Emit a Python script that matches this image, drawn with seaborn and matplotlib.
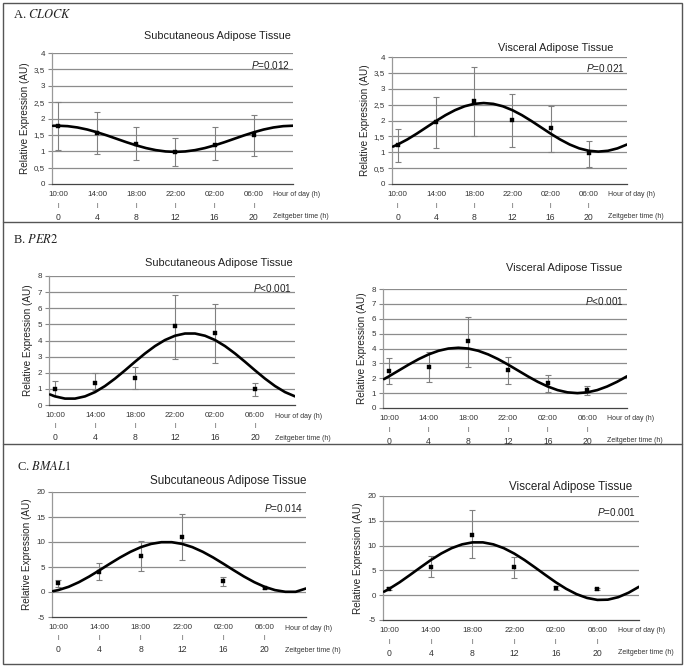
import matplotlib
matplotlib.use("Agg")
import matplotlib.pyplot as plt
import matplotlib.transforms as mtransforms
from matplotlib.patches import Rectangle
from matplotlib.lines import Line2D
import seaborn as sns
import pandas as pd

sns.set_theme(style="white")
plt.rcParams['font.family'] = ['Liberation Sans', 'DejaVu Sans']
plt.rcParams['mathtext.fontset'] = 'custom'
plt.rcParams['mathtext.rm'] = 'Liberation Sans'
plt.rcParams['mathtext.it'] = 'Liberation Sans:italic'

# sampling times (Zeitgeber time, h) and clock labels
zt = [0, 4, 8, 12, 16, 20]
hour_labels = ["10:00", "14:00", "18:00", "22:00", "02:00", "06:00"]
curve_hours = [-0.5] + list(range(25))

# A. CLOCK
clock_sat_mean = [1.78, 1.57, 1.22, 0.97, 1.2, 1.5]
clock_sat_lo = [1.03, 0.92, 0.72, 0.55, 0.72, 0.87]
clock_sat_hi = [2.5, 2.2, 1.73, 1.4, 1.73, 2.1]
clock_sat_curve = [1.777, 1.78, 1.766, 1.726, 1.663, 1.58, 1.484, 1.38, 1.276, 1.18, 1.097, 1.034, 0.994,
                   0.98, 0.994, 1.034, 1.097, 1.18, 1.276, 1.38, 1.484, 1.58, 1.663, 1.726, 1.766, 1.78]

clock_vat_mean = [1.22, 1.95, 2.6, 2.03, 1.75, 0.97]
clock_vat_lo = [0.68, 1.12, 1.5, 1.17, 1.0, 0.53]
clock_vat_hi = [1.72, 2.75, 3.67, 2.85, 2.47, 1.37]
clock_vat_curve = [1.178, 1.244, 1.403, 1.587, 1.785, 1.983, 2.168, 2.326, 2.448, 2.524, 2.55, 2.524, 2.448,
                   2.326, 2.168, 1.983, 1.785, 1.587, 1.403, 1.244, 1.122, 1.046, 1.02, 1.046, 1.122, 1.244]

# B. PER2
per2_sat_mean = [1.0, 1.38, 1.68, 4.87, 4.45, 0.98]
per2_sat_lo = [0.55, 0.9, 1.0, 2.85, 2.6, 0.55]
per2_sat_hi = [1.47, 2.0, 2.35, 6.85, 6.28, 1.38]
per2_sat_curve = [0.653, 0.535, 0.397, 0.397, 0.535, 0.8, 1.176, 1.636, 2.149, 2.681, 3.194, 3.654, 4.03,
                  4.295, 4.433, 4.433, 4.295, 4.03, 3.654, 3.194, 2.681, 2.149, 1.636, 1.176, 0.8, 0.535]

per2_vat_mean = [2.5, 2.78, 4.48, 2.55, 1.65, 1.18]
per2_vat_lo = [1.6, 1.78, 2.78, 1.58, 1.08, 0.85]
per2_vat_hi = [3.35, 3.75, 6.15, 3.4, 2.2, 1.5]
per2_vat_curve = [1.941, 2.13, 2.525, 2.92, 3.288, 3.603, 3.846, 3.998, 4.05, 3.998, 3.846, 3.603, 3.288,
                  2.92, 2.525, 2.13, 1.762, 1.447, 1.204, 1.052, 1.0, 1.052, 1.204, 1.447, 1.762, 2.13]

# C. BMAL1
bmal1_sat_mean = [1.8, 4.1, 7.3, 11.1, 2.2, 0.9]
bmal1_sat_lo = [1.0, 2.5, 4.3, 6.5, 1.3, 0.7]
bmal1_sat_hi = [2.5, 5.9, 10.3, 15.6, 3.1, 1.1]
bmal1_sat_curve = [0.17, 0.38, 1.03, 1.96, 3.09, 4.35, 5.65, 6.91, 8.04, 8.97, 9.62, 9.96, 9.96,
                   9.62, 8.97, 8.04, 6.91, 5.65, 4.35, 3.09, 1.96, 1.03, 0.38, 0.04, 0.04, 0.7]

bmal1_vat_mean = [1.3, 5.7, 12.2, 5.6, 1.5, 1.3]
bmal1_vat_lo = [1.0, 3.6, 7.4, 3.5, 1.1, 1.1]
bmal1_vat_hi = [1.6, 8.0, 17.2, 7.8, 1.9, 1.5]
bmal1_vat_curve = [0.71, 1.29, 2.61, 4.09, 5.61, 7.09, 8.41, 9.49, 10.25, 10.65, 10.65, 10.25, 9.49,
                   8.41, 7.09, 5.61, 4.09, 2.61, 1.29, 0.21, -0.55, -0.95, -0.9, -0.4, 0.5, 1.7]

W, H = 689, 669
fig = plt.figure(figsize=(W / 100, H / 100), dpi=100)


def px_axes(x0, y0, x1, y1):
    return fig.add_axes([x0 / W, 1 - y1 / H, (x1 - x0) / W, (y1 - y0) / H])


def draw_panel(ax, mean, lo, hi, curve, yticks, ylabels, ptext, py):
    ax.set_xlim(-0.6, 24)
    ax.set_ylim(yticks[0], yticks[-1])
    ax.set_yticks(yticks)
    ax.set_yticklabels(ylabels, fontsize=5.8, color='#333333')
    for y in yticks[1:]:
        ax.axhline(y, color='#8c8c8c', lw=0.9, zorder=0)
    ax.errorbar(zt, mean,
                yerr=[[m - l for m, l in zip(mean, lo)], [h - m for m, h in zip(mean, hi)]],
                fmt='none', ecolor='#808080', elinewidth=0.8, capsize=2, capthick=0.8, zorder=2)
    df_c = pd.DataFrame({'t': curve_hours, 'v': curve})
    sns.lineplot(data=df_c, x='t', y='v', ax=ax, color='black', lw=1.9, zorder=3)
    df_p = pd.DataFrame({'t': zt, 'v': mean})
    sns.scatterplot(data=df_p, x='t', y='v', ax=ax, marker='s', s=12, color='black',
                    edgecolor='black', zorder=4)
    ax.set_xlabel('')
    ax.set_ylabel('Relative Expression (AU)', fontsize=7.2, color='#222222', labelpad=3)
    ax.set_xticks([0, 4, 8, 12, 16, 20, 24])
    ax.set_xticklabels(hour_labels + [''], fontsize=5.8, color='#333333')
    ax.tick_params(axis='x', direction='inout', length=4, width=0.8, color='#555555', pad=3)
    ax.tick_params(axis='y', direction='out', length=3, width=0.8, color='#888888', pad=2, left=True)
    for s in ['top', 'right']:
        ax.spines[s].set_visible(False)
    ax.spines['left'].set_color('#999999')
    ax.spines['bottom'].set_color('#444444')
    ax.spines['left'].set_linewidth(0.9)
    ax.spines['bottom'].set_linewidth(0.9)
    trans = mtransforms.blended_transform_factory(ax.transData, ax.transAxes)
    for t in zt:
        ax.annotate('|', xy=(t, 0), xycoords=trans, xytext=(0, -21), textcoords='offset pixels',
                    ha='center', va='center', fontsize=4.2, color='#333333')
        ax.annotate(str(t), xy=(t, 0), xycoords=trans, xytext=(0, -33), textcoords='offset pixels',
                    ha='center', va='center', fontsize=6.2, color='#333333')
    ax.annotate('Hour of day (h)', xy=(22, 0), xycoords=trans, xytext=(0, -11), textcoords='offset pixels',
                ha='left', va='center', fontsize=5.0, color='#333333')
    ax.annotate('Zeitgeber time (h)', xy=(22, 0), xycoords=trans, xytext=(0, -33), textcoords='offset pixels',
                ha='left', va='center', fontsize=5.0, color='#333333')
    ax.text(0.99, py, ptext, transform=ax.transAxes, ha='right', va='center', fontsize=7.2, color='#222222')


clock_ticks = [0, 0.5, 1, 1.5, 2, 2.5, 3, 3.5, 4]
clock_labels = ['0', '0,5', '1', '1,5', '2', '2,5', '3', '3,5', '4']
per2_ticks = list(range(9))
bmal1_ticks = [-5, 0, 5, 10, 15, 20]

ax = px_axes(52, 53, 293, 184)
draw_panel(ax, clock_sat_mean, clock_sat_lo, clock_sat_hi, clock_sat_curve,
           clock_ticks, clock_labels, '$\\it{P}$=0.012', 0.91)
ax = px_axes(392, 57, 627, 184)
draw_panel(ax, clock_vat_mean, clock_vat_lo, clock_vat_hi, clock_vat_curve,
           clock_ticks, clock_labels, '$\\it{P}$=0.021', 0.91)
ax = px_axes(49, 276, 295, 405)
draw_panel(ax, per2_sat_mean, per2_sat_lo, per2_sat_hi, per2_sat_curve,
           per2_ticks, [str(v) for v in per2_ticks], '$\\it{P}$<0.001', 0.91)
ax = px_axes(383, 289, 627, 408)
draw_panel(ax, per2_vat_mean, per2_vat_lo, per2_vat_hi, per2_vat_curve,
           per2_ticks, [str(v) for v in per2_ticks], '$\\it{P}$<0.001', 0.90)
ax = px_axes(52, 492, 306, 617)
draw_panel(ax, bmal1_sat_mean, bmal1_sat_lo, bmal1_sat_hi, bmal1_sat_curve,
           bmal1_ticks, [str(v) for v in bmal1_ticks], '$\\it{P}$=0.014', 0.87)
ax = px_axes(383, 496, 639, 620)
draw_panel(ax, bmal1_vat_mean, bmal1_vat_lo, bmal1_vat_hi, bmal1_vat_curve,
           bmal1_ticks, [str(v) for v in bmal1_ticks], '$\\it{P}$=0.001', 0.87)

# panel titles
titles = [(217, 36, 'Subcutaneous Adipose Tissue', 7.8), (556, 48, 'Visceral Adipose Tissue', 7.8),
          (219, 263, 'Subcutaneous Adipose Tissue', 7.9), (564, 268, 'Visceral Adipose Tissue', 7.9),
          (228, 481, 'Subcutaneous Adipose Tissue', 8.4), (571, 487, 'Visceral Adipose Tissue', 8.4)]
for x, y, s, fs in titles:
    fig.text(x / W, 1 - y / H, s, ha='center', va='center', fontsize=fs, color='#222222')

# section labels
sections = [(13, 15, 'A. $\\it{CLOCK}$'), (13, 240, 'B. $\\it{PER2}$'), (17, 467, 'C. $\\it{BMAL1}$')]
for x, y, s in sections:
    fig.text(x / W, 1 - y / H, s, ha='left', va='center', fontsize=9, color='#222222',
             family='Liberation Serif', math_fontfamily='stix')

# frame and row separators
fig.add_artist(Rectangle((3 / W, 1 - 664 / H), 679 / W, 661 / H, transform=fig.transFigure,
                         fill=False, edgecolor='#555555', lw=1.0))
for y in [222, 444]:
    fig.add_artist(Line2D([3 / W, 682 / W], [1 - y / H, 1 - y / H], transform=fig.transFigure,
                          color='#555555', lw=1.0))

fig.savefig('out.png', dpi=100)
